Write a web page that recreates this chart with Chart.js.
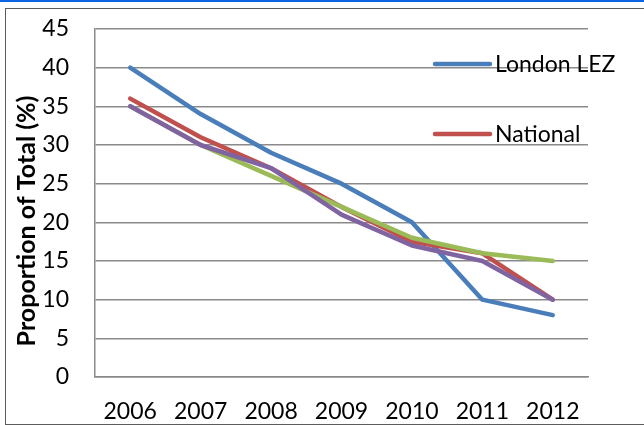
<!DOCTYPE html>
<html>
<head>
<meta charset="utf-8">
<script src="https://cdn.jsdelivr.net/npm/chart.js@4.4.1/dist/chart.umd.min.js"></script>
<style>
  html, body { margin: 0; padding: 0; background: #fff; }
  #wrap { position: relative; width: 644px; height: 425px; overflow: hidden; }
  #topbar { position: absolute; left: 0; top: 0; width: 644px; height: 2px; background: #0b66e4; }
  #frame { position: absolute; left: 5px; top: 8px; width: 720px; height: 415px; border: 1px solid #5c5c5c; }
  canvas { position: absolute; left: 0; top: 0; }
</style>
</head>
<body>
<div id="wrap">
  <div id="topbar"></div>
  <div id="frame"></div>
  <canvas id="chart" width="644" height="425"></canvas>
</div>
<script>
// Share of the vehicle fleet by year (%)
const years = ['2006', '2007', '2008', '2009', '2010', '2011', '2012'];
const londonLez = [40, 34, 29, 25, 20, 10, 8];
const national = [36, 31, 27, 22, 17.5, 16, 10];
const series3 = [35, 30, 26, 22, 18, 16, 15];
const series4 = [35, 30, 27, 21, 17, 15, 10];

const yAxisTitle = 'Proportion of Total (%)';
const legendEntries = ['London LEZ', 'National'];

const FONT = 'Lato, "Open Sans", sans-serif';
const GRID = '#8a8a8a';

// In-plot legend: short line swatch followed by the series name
const insideLegend = {
  id: 'insideLegend',
  afterDatasetsDraw(chart) {
    const { ctx, chartArea } = chart;
    const x0 = chartArea.left + 340;
    ctx.save();
    legendEntries.forEach((name, i) => {
      const ds = chart.data.datasets.find(d => d.label === name);
      const y = chartArea.top + 35 + i * 70;
      ctx.strokeStyle = ds.borderColor;
      ctx.lineWidth = 4.5;
      ctx.lineCap = 'round';
      ctx.beginPath();
      ctx.moveTo(x0, y);
      ctx.lineTo(x0 + 55, y);
      ctx.stroke();
      ctx.fillStyle = '#000';
      ctx.font = '23px ' + FONT;
      ctx.textAlign = 'left';
      ctx.textBaseline = 'middle';
      ctx.fillText(name, x0 + 60, y + 1);
    });
    ctx.restore();
  }
};

// Rotated value-axis caption
const axisCaption = {
  id: 'axisCaption',
  afterDraw(chart) {
    const { ctx } = chart;
    ctx.save();
    ctx.translate(27, 221);
    ctx.rotate(-Math.PI / 2);
    ctx.fillStyle = '#000';
    ctx.font = 'bold 25px ' + FONT;
    ctx.textAlign = 'center';
    ctx.textBaseline = 'middle';
    ctx.fillText(yAxisTitle, 0, 0);
    ctx.restore();
  }
};

const lineStyle = (color, order) => ({
  borderColor: color,
  backgroundColor: color,
  borderWidth: 4.5,
  borderCapStyle: 'round',
  borderJoinStyle: 'round',
  pointRadius: 0,
  pointHoverRadius: 0,
  tension: 0,
  fill: false,
  order
});

new Chart(document.getElementById('chart'), {
  type: 'line',
  data: {
    labels: years,
    datasets: [
      { label: 'London LEZ', data: londonLez, ...lineStyle('#4a7ebb', 4) },
      { label: 'National', data: national, ...lineStyle('#c0504d', 3) },
      { label: 'Series 3', data: series3, ...lineStyle('#9bbb59', 2) },
      { label: 'Series 4', data: series4, ...lineStyle('#8064a2', 1) }
    ]
  },
  options: {
    responsive: false,
    animation: false,
    devicePixelRatio: 1,
    layout: { padding: { left: 0, right: 56, top: 29, bottom: 0 } },
    plugins: {
      legend: { display: false },
      tooltip: { enabled: false }
    },
    scales: {
      x: {
        offset: true,
        grid: { display: false, drawTicks: false },
        border: { display: true, color: GRID, width: 1.5 },
        ticks: { color: '#000', font: { family: FONT, size: 23 }, padding: 21, maxRotation: 0 },
        afterFit(s) { s.height = 48; s.paddingLeft = 0; s.paddingRight = 0; }
      },
      y: {
        min: 0,
        max: 45,
        grid: { color: GRID, lineWidth: 1.5, drawTicks: false },
        border: { display: true, color: GRID, width: 1.5 },
        ticks: { stepSize: 5, color: '#000', font: { family: FONT, size: 23 }, padding: 26 },
        afterFit(s) { s.width = 95; s.paddingTop = 0; s.paddingBottom = 0; }
      }
    }
  },
  plugins: [insideLegend, axisCaption]
});
</script>
</body>
</html>
